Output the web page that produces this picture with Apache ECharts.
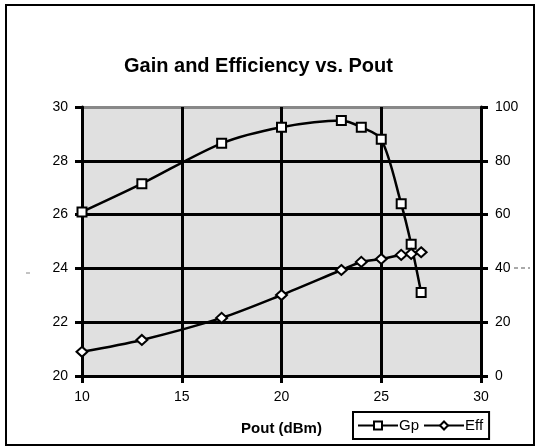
<!DOCTYPE html>
<html>
<head>
<meta charset="utf-8">
<script src="https://cdn.jsdelivr.net/npm/echarts@6/dist/echarts.min.js"></script>
<style>
  html, body { margin: 0; padding: 0; background: #fff; }
  #chart { width: 540px; height: 448px; }
</style>
</head>
<body>
<div id="chart"></div>
<script>
// Pout (dBm) -> Gp (dB), left axis
const gpPout = [10, 13, 17, 20, 23, 24, 25, 26, 26.5, 27]
const gpValues = [26.1, 27.15, 28.65, 29.25, 29.5, 29.25, 28.8, 26.4, 24.9, 23.1]
// Pout (dBm) -> Eff (%), right axis
const effPout = [10, 13, 17, 20, 23, 24, 25, 26, 26.5, 27]
const effValues = [9, 13.4, 21.6, 30.1, 39.4, 42.4, 43.5, 45, 45.4, 46]

const chart = echarts.init(document.getElementById('chart'))
const font = 'Liberation Sans, Arial, sans-serif'

const option = {
  animation: false,
  backgroundColor: '#fff',
  title: {
    text: 'Gain and Efficiency vs. Pout',
    left: 119,
    top: 51,
    textStyle: { fontFamily: font, fontSize: 20, fontWeight: 'bold', color: '#000' }
  },
  grid: {
    left: 82,
    right: 59,
    top: 107,
    bottom: 72,
    show: true,
    backgroundColor: '#e0e0e0',
    borderWidth: 0
  },
  legend: {
    left: 353,
    top: 412,
    padding: [6, 6, 6, 4],
    borderColor: '#000',
    borderWidth: 2,
    itemWidth: 40,
    itemHeight: 10,
    itemGap: 4,
    textStyle: { fontFamily: font, fontSize: 15, color: '#000', padding: [0, 0, 0, -4] },
    data: ['Gp', 'Eff']
  },
  xAxis: {
    type: 'value',
    min: 10,
    max: 30,
    interval: 5,
    name: 'Pout (dBm)',
    nameLocation: 'middle',
    nameGap: 45,
    nameTextStyle: { fontFamily: font, fontSize: 15, fontWeight: 'bold', color: '#000' },
    axisLine: { lineStyle: { color: '#000', width: 3 } },
    axisTick: { show: true, length: 7, lineStyle: { color: '#000', width: 3 } },
    axisLabel: { fontFamily: font, fontSize: 14, color: '#000', margin: 14 },
    splitLine: { show: true, lineStyle: { color: '#000', width: 3 } }
  },
  yAxis: [
    {
      type: 'value',
      min: 20,
      max: 30,
      interval: 2,
      axisLine: { show: true, lineStyle: { color: '#000', width: 3 } },
      axisTick: { show: true, length: 7, lineStyle: { color: '#000', width: 3 } },
      axisLabel: { fontFamily: font, fontSize: 14, color: '#000', margin: 14 },
      splitLine: {
        show: true,
        lineStyle: { color: ['#000', '#000', '#000', '#000', '#000', '#888'], width: 3 }
      }
    },
    {
      type: 'value',
      min: 0,
      max: 100,
      interval: 20,
      position: 'right',
      axisLine: { show: true, lineStyle: { color: '#000', width: 3 } },
      axisTick: { show: true, length: 7, lineStyle: { color: '#000', width: 3 } },
      axisLabel: { fontFamily: font, fontSize: 14, color: '#000', margin: 14 },
      splitLine: { show: false }
    }
  ],
  series: [
    {
      name: 'Gp',
      type: 'line',
      yAxisIndex: 0,
      smooth: 0.3,
      symbol: 'rect',
      symbolSize: 9,
      lineStyle: { color: '#000', width: 2.5 },
      itemStyle: { color: '#fff', borderColor: '#000', borderWidth: 2 },
      data: gpPout.map((x, i) => [x, gpValues[i]])
    },
    {
      name: 'Eff',
      type: 'line',
      yAxisIndex: 1,
      smooth: 0.3,
      symbol: 'diamond',
      symbolSize: [11, 10],
      lineStyle: { color: '#000', width: 2.5 },
      itemStyle: { color: '#fff', borderColor: '#000', borderWidth: 2 },
      data: effPout.map((x, i) => [x, effValues[i]])
    }
  ],
  graphic: [
    {
      type: 'rect',
      shape: { x: 6, y: 5, width: 528, height: 440 },
      style: { fill: 'none', stroke: '#000', lineWidth: 2 },
      silent: true
    },
    {
      type: 'line',
      shape: { x1: 26, y1: 273, x2: 30, y2: 273 },
      style: { stroke: '#888', lineWidth: 1 },
      silent: true
    },
    {
      type: 'line',
      shape: { x1: 514, y1: 268, x2: 530, y2: 268 },
      style: { stroke: '#555', lineWidth: 1, lineDash: [4, 3] },
      silent: true
    }
  ]
}

chart.setOption(option)
</script>
</body>
</html>
